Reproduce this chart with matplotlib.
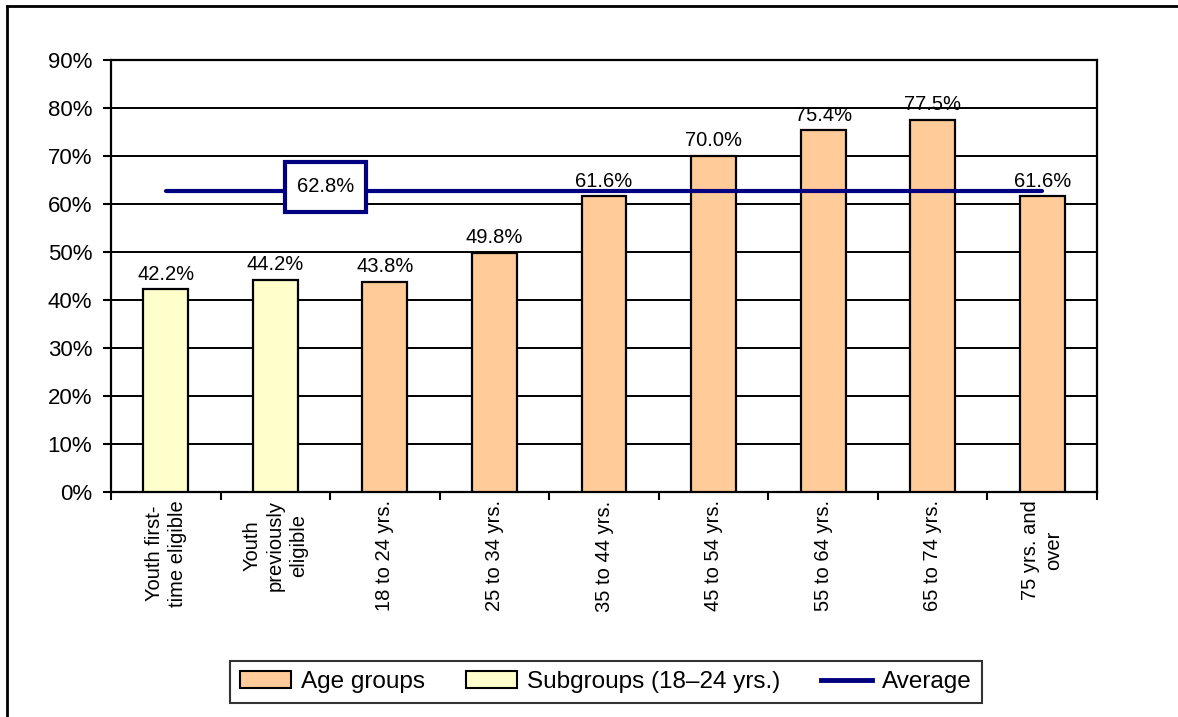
import matplotlib.pyplot as plt
from matplotlib.lines import Line2D
from matplotlib.patches import Patch, Rectangle

plt.rcParams['font.family'] = ['Liberation Sans', 'DejaVu Sans']

categories = ['Youth first-\ntime eligible', 'Youth\npreviously\neligible',
              '18 to 24 yrs.', '25 to 34 yrs.', '35 to 44 yrs.', '45 to 54 yrs.',
              '55 to 64 yrs.', '65 to 74 yrs.', '75 yrs. and\nover']
values = [42.2, 44.2, 43.8, 49.8, 61.6, 70.0, 75.4, 77.5, 61.6]
is_subgroup = [True, True, False, False, False, False, False, False, False]
average = 62.8

age_color = '#FFCC99'
sub_color = '#FFFFCC'
avg_color = '#000080'

fig = plt.figure(figsize=(11.78, 7.17), dpi=100)
ax = fig.add_axes([111 / 1178, 1 - 492 / 717, 986 / 1178, 432 / 717])

x = list(range(len(values)))
colors = [sub_color if s else age_color for s in is_subgroup]
ax.bar(x, values, width=0.41, color=colors, edgecolor='black', linewidth=1.6, zorder=3)

for xi, v in zip(x, values):
    ax.annotate(f'{v:.1f}%', (xi, v), xytext=(0, 4), textcoords='offset points',
                ha='center', va='bottom', fontsize=14.5)

# average line across bar centers, label sits in a framed box on the line
ax.plot([x[0], x[-1]], [average, average], color=avg_color, lw=3,
        solid_capstyle='round', zorder=4)
lx, ly = 1.46, 63.6
ax.add_patch(Rectangle((lx - 0.37, ly - 5.2), 0.74, 10.4, facecolor='white',
                       edgecolor=avg_color, lw=3, zorder=5))
ax.text(lx, ly, f'{average:.1f}%', ha='center', va='center', fontsize=14.5, zorder=6)

ax.set_xlim(-0.5, len(values) - 0.5)
ax.set_ylim(0, 90)
ax.set_yticks(range(0, 91, 10))
ax.set_yticklabels([f'{t}%' for t in range(0, 91, 10)], fontsize=16)
ax.yaxis.grid(True, color='black', lw=1.4)
ax.set_axisbelow(True)

ax.set_xticks([i + 0.5 for i in range(-1, len(values))], minor=False)
ax.set_xticklabels([])
ax.set_xticks(x, minor=True)
ax.set_xticklabels(categories, minor=True, rotation=90, fontsize=14.5,
                   ha='center', va='top', multialignment='center', linespacing=1.3)
ax.tick_params(axis='x', which='major', length=6, width=1.5, direction='out')
ax.tick_params(axis='x', which='minor', length=0, pad=6)
ax.tick_params(axis='y', length=6, width=1.5, direction='out', pad=7.5)
for s in ax.spines.values():
    s.set_linewidth(1.6)

handles = [Patch(facecolor=age_color, edgecolor='black', lw=1.5, label='Age groups'),
           Patch(facecolor=sub_color, edgecolor='black', lw=1.5, label='Subgroups (18\u201324 yrs.)'),
           Line2D([0], [0], color=avg_color, lw=3.5, label='Average')]
leg = fig.legend(handles=handles, loc='center', bbox_to_anchor=(606 / 1178, 1 - 682 / 717),
                 ncol=3, fontsize=17.5, frameon=True, fancybox=False, edgecolor='black',
                 handlelength=2.1, handleheight=0.65, handletextpad=0.4, columnspacing=1.7,
                 borderpad=0.4, borderaxespad=0)
leg.get_frame().set_linewidth(1.5)

# outer chart border (left and top edges)
fig.add_artist(Line2D([7 / 1178, 7 / 1178], [0, 1 - 6 / 717], color='black', lw=2,
                      transform=fig.transFigure))
fig.add_artist(Line2D([7 / 1178, 1], [1 - 6 / 717, 1 - 6 / 717], color='black', lw=2,
                      transform=fig.transFigure))

fig.savefig('out.png', dpi=100)
